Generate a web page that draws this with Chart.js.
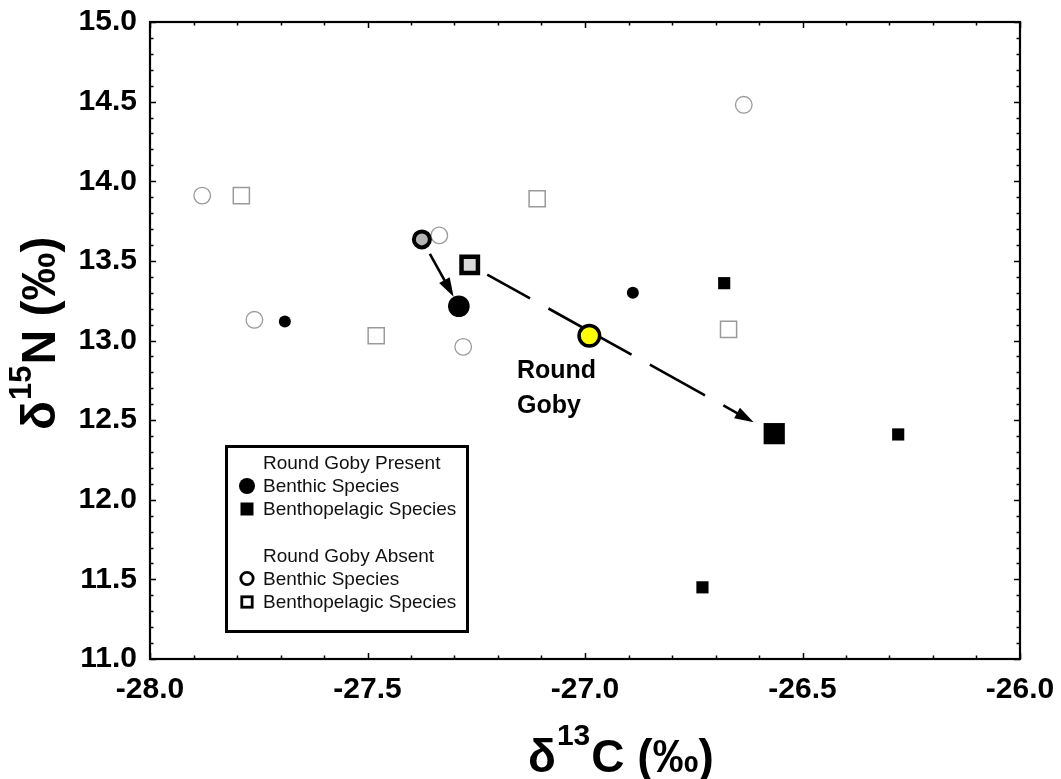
<!DOCTYPE html>
<html><head><meta charset="utf-8">
<script src="https://cdn.jsdelivr.net/npm/chart.js@4.4.0/dist/chart.umd.min.js"></script>
<style>html,body{margin:0;padding:0;background:#fff}#wrap{width:1061px;height:779px;position:relative}</style>
</head><body><div id="wrap"><canvas id="c" width="1061" height="779"></canvas></div>
<script>
// ---- tick labels ----
const xTicks = [-28.0, -27.5, -27.0, -26.5, -26.0];
const yTicks = [11.0, 11.5, 12.0, 12.5, 13.0, 13.5, 14.0, 14.5, 15.0];

// ---- Round Goby Absent ----
const absentBenthicX = [-27.88, -27.76, -27.335, -27.28, -26.635];
const absentBenthicY = [13.91, 13.13, 13.66, 12.96, 14.48];
const absentPelagicX = [-27.79, -27.48, -27.11, -26.67];
const absentPelagicY = [13.91, 13.03, 13.89, 13.07];
// ---- Round Goby Present ----
const presentBenthicX = [-27.69, -26.89];
const presentBenthicY = [13.12, 13.30];
const presentPelagicX = [-26.68, -26.28, -26.73];
const presentPelagicY = [13.36, 12.41, 11.45];
// ---- group means ----
const meanAbsentBenthic = [-27.375, 13.635];
const meanPresentBenthic = [-27.29, 13.215];
const meanAbsentPelagic = [-27.265, 13.475];
const meanPresentPelagic = [-26.565, 12.415];
const roundGoby = [-26.99, 13.03];

const legendHeads = ['Round Goby Present', 'Round Goby Absent'];
const legendItems = ['Benthic Species', 'Benthopelagic Species'];

const FONT = '"Liberation Sans", Arial, sans-serif';
const pts = (xs, ys) => xs.map((x, i) => ({x: x, y: ys[i]}));
const one = p => [{x: p[0], y: p[1]}];

const datasets = [
  {data: pts(absentBenthicX, absentBenthicY), pointStyle: 'circle', pointRadius: 8.3,
   backgroundColor: '#fff', borderColor: '#9a9a9a', borderWidth: 1.3, order: 10},
  {data: pts(absentPelagicX, absentPelagicY), pointStyle: 'rect', pointRadius: 11.4,
   backgroundColor: '#fff', borderColor: '#9a9a9a', borderWidth: 1.5, order: 10},
  {data: pts(presentBenthicX, presentBenthicY), pointStyle: 'circle', pointRadius: 6,
   backgroundColor: '#000', borderColor: '#000', borderWidth: 0, order: 9},
  {data: pts(presentPelagicX, presentPelagicY), pointStyle: 'rect', pointRadius: 8.6,
   backgroundColor: '#000', borderColor: '#000', borderWidth: 0, order: 9},
  {data: one(meanAbsentBenthic), pointStyle: 'circle', pointRadius: 8,
   backgroundColor: '#b4b4b4', borderColor: '#000', borderWidth: 4, order: 5},
  {data: one(meanAbsentPelagic), pointStyle: 'rect', pointRadius: 11.6,
   backgroundColor: '#d9d9d9', borderColor: '#000', borderWidth: 4.5, order: 5},
  {data: one(meanPresentBenthic), pointStyle: 'circle', pointRadius: 10.8,
   backgroundColor: '#000', borderColor: '#000', borderWidth: 0, order: 5},
  {data: one(meanPresentPelagic), pointStyle: 'rect', pointRadius: 15,
   backgroundColor: '#000', borderColor: '#000', borderWidth: 0, order: 5},
  {data: one(roundGoby), pointStyle: 'circle', pointRadius: 10.3,
   backgroundColor: '#ffff00', borderColor: '#000', borderWidth: 3.5, order: 1}
];

function arrow(ctx, x1, y1, x2, y2, startOff, endOff, dash) {
  const dx = x2 - x1, dy = y2 - y1, L = Math.hypot(dx, dy), ux = dx / L, uy = dy / L;
  const sx = x1 + ux * startOff, sy = y1 + uy * startOff;
  const ex = x2 - ux * endOff, ey = y2 - uy * endOff;
  const head = 19, hw = 6;
  const bx = ex - ux * head, by = ey - uy * head;
  ctx.save();
  ctx.strokeStyle = '#000'; ctx.fillStyle = '#000'; ctx.lineWidth = 2.6; ctx.lineCap = 'butt';
  ctx.setLineDash(dash || []);
  ctx.beginPath(); ctx.moveTo(sx, sy); ctx.lineTo(bx + ux * 2, by + uy * 2); ctx.stroke();
  ctx.setLineDash([]);
  ctx.beginPath(); ctx.moveTo(ex, ey);
  ctx.lineTo(bx - uy * hw, by + ux * hw); ctx.lineTo(bx + uy * hw, by - ux * hw);
  ctx.closePath(); ctx.fill();
  ctx.restore();
}

const decor = {
  id: 'decor',
  beforeDatasetsDraw(chart) {
    const ctx = chart.ctx, xs = chart.scales.x, ys = chart.scales.y;
    const P = p => [xs.getPixelForValue(p[0]), ys.getPixelForValue(p[1])];
    const a = P(meanAbsentBenthic), b = P(meanPresentBenthic);
    arrow(ctx, a[0], a[1], b[0], b[1], 16.5, 10.8, null);
    const c = P(meanAbsentPelagic), d = P(meanPresentPelagic);
    arrow(ctx, c[0], c[1], d[0], d[1], 20, 23.5, [49, 21, 95, 21, 63, 21, 300]);
  },
  afterDraw(chart) {
    const ctx = chart.ctx, xs = chart.scales.x, ys = chart.scales.y, A = chart.chartArea;
    ctx.save();
    // ticks (inward, all four sides)
    ctx.strokeStyle = '#000'; ctx.lineWidth = 1.5;
    for (let i = 0; i <= 20; i++) {
      const v = -28 + i * 0.1, px = Math.round(xs.getPixelForValue(v)) + 0.5;
      const len = (i % 5 === 0) ? 6 : 3.5;
      ctx.beginPath();
      ctx.moveTo(px, A.bottom); ctx.lineTo(px, A.bottom - len);
      ctx.moveTo(px, A.top); ctx.lineTo(px, A.top + len);
      ctx.stroke();
    }
    for (let i = 0; i <= 40; i++) {
      const v = 11 + i * 0.1, py = Math.round(ys.getPixelForValue(v)) + 0.5;
      const len = (i % 5 === 0) ? 6 : 3.5;
      ctx.beginPath();
      ctx.moveTo(A.left, py); ctx.lineTo(A.left + len, py);
      ctx.moveTo(A.right, py); ctx.lineTo(A.right - len, py);
      ctx.stroke();
    }
    // frame
    ctx.lineWidth = 2.2;
    ctx.strokeRect(A.left, A.top, A.right - A.left, A.bottom - A.top);

    // "Round Goby" label
    ctx.fillStyle = '#000';
    ctx.font = 'bold 25px ' + FONT;
    ctx.textBaseline = 'alphabetic'; ctx.textAlign = 'left';
    ctx.fillText('Round', 517, 378);
    ctx.fillText('Goby', 517, 413);

    // legend box
    ctx.lineWidth = 3;
    ctx.strokeRect(226.5, 446.5, 241, 185);
    ctx.font = '19px ' + FONT;
    ctx.fillStyle = '#111';
    ctx.fillText(legendHeads[0], 263, 469);
    ctx.fillText(legendItems[0], 263, 492);
    ctx.fillText(legendItems[1], 263, 515);
    ctx.fillText(legendHeads[1], 263, 562);
    ctx.fillText(legendItems[0], 263, 585);
    ctx.fillText(legendItems[1], 263, 608);
    ctx.fillStyle = '#000';
    ctx.beginPath(); ctx.arc(247, 486, 8, 0, Math.PI * 2); ctx.fill();
    ctx.fillRect(240.5, 502.5, 13, 13);
    ctx.lineWidth = 2.8;
    ctx.beginPath(); ctx.arc(247, 578.5, 6.2, 0, Math.PI * 2); ctx.stroke();
    ctx.strokeRect(241.8, 596.8, 10.4, 10.4);

    // x-axis title
    ctx.fillStyle = '#000';
    let x = 528;
    ctx.font = 'bold 46px ' + FONT;
    ctx.fillText('δ', x, 772); x += ctx.measureText('δ').width + 1;
    ctx.font = 'bold 30px ' + FONT;
    ctx.fillText('13', x, 745); x += ctx.measureText('13').width + 1;
    ctx.font = 'bold 46px ' + FONT;
    ctx.fillText('C (‰)', x, 772);

    // y-axis title
    ctx.translate(55, 430);
    ctx.rotate(-Math.PI / 2);
    x = 0;
    ctx.font = 'bold 48px ' + FONT;
    ctx.fillText('δ', x, 0); x += ctx.measureText('δ').width + 1;
    ctx.font = 'bold 31px ' + FONT;
    ctx.fillText('15', x, -24); x += ctx.measureText('15').width + 1;
    ctx.font = 'bold 48px ' + FONT;
    ctx.fillText('N (‰)', x, 0);
    ctx.restore();
  }
};

new Chart(document.getElementById('c'), {
  type: 'scatter',
  data: {datasets: datasets},
  options: {
    responsive: false, animation: false, devicePixelRatio: 1, events: [],
    layout: {padding: {left: 0, right: 41, top: 22, bottom: 0}},
    plugins: {legend: {display: false}, tooltip: {enabled: false}},
    scales: {
      x: {
        type: 'linear', position: 'bottom', min: -28, max: -26,
        afterFit: s => { s.height = 120; s.paddingLeft = 0; s.paddingRight = 0; },
        afterBuildTicks: s => { s.ticks = xTicks.map(v => ({value: v})); },
        grid: {display: false, drawTicks: false}, border: {display: false},
        ticks: {padding: 13, color: '#000', autoSkip: false, maxRotation: 0,
                font: {family: FONT, size: 30, weight: 'bold'},
                callback: v => Number(v).toFixed(1)}
      },
      y: {
        type: 'linear', position: 'left', min: 11, max: 15,
        afterFit: s => { s.width = 150; s.paddingTop = 0; s.paddingBottom = 0; },
        afterBuildTicks: s => { s.ticks = yTicks.map(v => ({value: v})); },
        grid: {display: false, drawTicks: false}, border: {display: false},
        ticks: {padding: 13, color: '#000', autoSkip: false,
                font: {family: FONT, size: 30, weight: 'bold'},
                callback: v => Number(v).toFixed(1)}
      }
    }
  },
  plugins: [decor]
});
</script></body></html>
